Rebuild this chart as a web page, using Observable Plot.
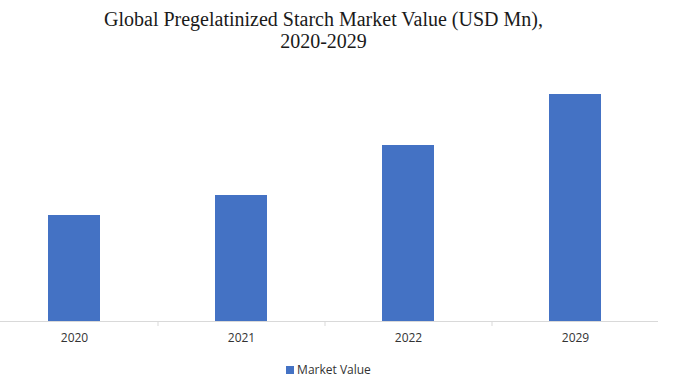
<!DOCTYPE html>
<html>
<head>
<meta charset="utf-8">
<script src="https://cdn.jsdelivr.net/npm/d3@7"></script>
<script src="https://cdn.jsdelivr.net/npm/@observablehq/plot@0.6"></script>
<style>
  body { margin: 0; background: #fff; width: 697px; height: 388px; overflow: hidden; }
  #title { font-family: "Liberation Serif", "DejaVu Serif", serif; font-size: 20px; color: #1a1a1a;
           text-align: center; line-height: 22px; padding-top: 8px; height: 44px; margin-left: -50px; }
  #legend { display: flex; justify-content: center; align-items: center; margin-top: 9px;
            font-family: "Open Sans", "Liberation Sans", sans-serif; font-size: 12px; color: #333; margin-left: -40px; }
  #legend .sw { width: 8px; height: 8px; background: #4472C4; margin-right: 3px; }
</style>
</head>
<body>
<div id="title">Global Pregelatinized Starch Market Value (USD Mn),<br>2020-2029</div>
<div id="chart"></div>
<div id="legend"></div>
<script>
const years = ["2020", "2021", "2022", "2029"];
const values = [1060, 1260, 1760, 2270];
const seriesName = "Market Value";
const barColor = "#4472C4";

const data = years.map((y, i) => ({year: y, value: values[i]}));

const chart = Plot.plot({
  width: 697,
  height: 300,
  marginTop: 19,
  marginBottom: 31,
  marginLeft: 0,
  marginRight: 39,
  x: {domain: years, range: [-10, 658], paddingInner: 0.69, paddingOuter: 0.345, label: null},
  y: {domain: [0, 2500], axis: null},
  marks: [
    Plot.barY(data, {x: "year", y: "value", fill: barColor}),
    Plot.ruleY([0], {stroke: "#d9d9d9", strokeWidth: 1}),
    Plot.ruleX(years.slice(0, 3), {x: d => d, y1: 0, y2: 0, insetBottom: -5, dx: 83.5, stroke: "#d9d9d9"}),
    Plot.axisX({tickSize: 0, tickPadding: 12, fontSize: 12, fill: "#333",
                fontFamily: "Open Sans, Liberation Sans, sans-serif", label: null})
  ]
});
chart.style.fontFamily = "Open Sans, Liberation Sans, sans-serif";
document.getElementById("chart").append(chart);

const legend = document.getElementById("legend");
legend.innerHTML = `<span class="sw"></span><span>${seriesName}</span>`;
</script>
</body>
</html>
